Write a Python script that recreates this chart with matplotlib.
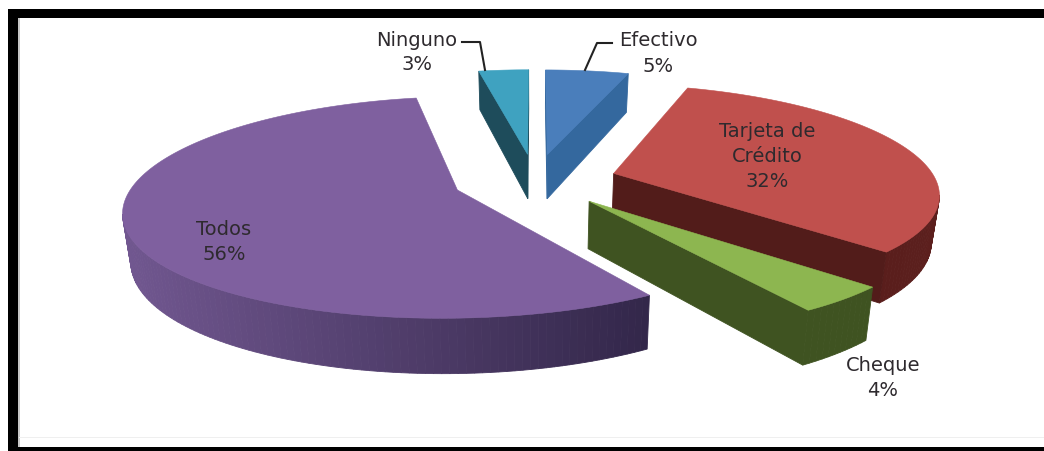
import numpy as np
import matplotlib
matplotlib.use("Agg")
import matplotlib.pyplot as plt
from matplotlib.colors import to_rgb
from matplotlib.patches import Polygon, Rectangle

# ==========================================================
# Data
# ==========================================================

categories = ["Efectivo", "Tarjeta de\nCrédito", "Cheque", "Todos", "Ninguno"]
values = [5, 32, 4, 56, 3]

top_colors = ["#4a7ebb", "#c0504d", "#8db650", "#7f609f", "#3fa2c0"]
cut_colors = ["#34689e", "#521c1a", "#3f5321", "#3a2c50", "#1e4c5b"]
rim_left = ["#34689e", "#4d1a18", "#3f5321", "#715790", "#1e4c5b"]
rim_right = ["#34689e", "#5c1f1d", "#3f5321", "#33274a", "#1e4c5b"]

label_pos = [(658, 41), (767, 132), (883, 366), (224, 230), (417, 40)]

# ==========================================================
# Projection of the exploded pie
# ==========================================================

cx, cy = 535, 181
radius = 322
squash = 0.326
persp_x = 0.17
persp_y = 0.155
explode = 0.255
height = 46


def project(u, v):
    sx = 1 / (1 + persp_x * v)
    sy = 1 / (1 + persp_y * v)
    return cx + radius * u * sx, cy - radius * squash * v * sy, sy


def drop(x, y, s):
    # lower edge of the slab, pulled slightly towards the middle
    return cx + (x - cx) * 0.98, y + height * s


def mix(c1, c2, t):
    c1, c2 = np.array(to_rgb(c1)), np.array(to_rgb(c2))
    return tuple(c1 + (c2 - c1) * t)


fig = plt.figure(figsize=(10.44, 4.52), dpi=100)
ax = fig.add_axes([0, 0, 1, 1])
ax.set_xlim(0, 1044)
ax.set_ylim(452, 0)
ax.axis("off")

# frame of the screenshot
ax.add_patch(Rectangle((8, 10), 1036, 9, color="black", lw=0))
ax.add_patch(Rectangle((8, 10), 10, 442, color="black", lw=0))
ax.add_patch(Rectangle((8, 448), 1036, 4, color="black", lw=0))
ax.add_patch(Rectangle((18, 19), 1.5, 429, color="#c8c8c8", lw=0))
ax.add_patch(Rectangle((19, 438), 1025, 1, color="#efefef", lw=0))

# ==========================================================
# Slices, back to front
# ==========================================================

edges = np.cumsum([0] + values) / sum(values) * 2 * np.pi
mids = (edges[:-1] + edges[1:]) / 2

for i in np.argsort(-np.cos(mids)):
    off_u = explode * np.sin(mids[i])
    off_v = explode * np.cos(mids[i])
    angles = np.linspace(edges[i], edges[i + 1], max(values[i] * 3, 8))

    # outline going clockwise on screen: apex, arc, back to apex
    us = np.r_[off_u, off_u + np.sin(angles), off_u]
    vs = np.r_[off_v, off_v + np.cos(angles), off_v]
    xs, ys, ss = project(us, vs)
    xb, yb = drop(xs, ys, ss)

    n = len(xs) - 1
    for j in range(n):
        # a side face shows only where the outline runs leftwards
        if xs[j + 1] >= xs[j]:
            continue
        if j == 0 or j == n - 1:
            color = cut_colors[i]
        else:
            t = (xs[j] - xs.min()) / (xs.max() - xs.min())
            color = mix(rim_left[i], rim_right[i], t)
        quad = [(xs[j], ys[j]), (xs[j + 1], ys[j + 1]),
                (xb[j + 1], yb[j + 1]), (xb[j], yb[j])]
        ax.add_patch(Polygon(quad, closed=True, facecolor=color,
                             edgecolor=color, lw=0.6))

    ax.add_patch(Polygon(np.c_[xs[:-1], ys[:-1]], closed=True,
                         facecolor=top_colors[i], edgecolor=top_colors[i], lw=0.4))

# ==========================================================
# Labels
# ==========================================================

for name, val, (lx, ly) in zip(categories, values, label_pos):
    lines = name.split("\n") + [f"{val}%"]
    for k, line in enumerate(lines):
        ax.text(lx, ly + k * 25, line, ha="center", va="center",
                fontsize=14, color="#2e2a2e", family="DejaVu Sans")

# leader lines
ax.plot([462, 480, 485], [43, 43, 71], color="#222222", lw=1.5)
ax.plot([612, 597, 585], [44, 44, 71], color="#222222", lw=1.5)

plt.savefig("out.png", dpi=100)
